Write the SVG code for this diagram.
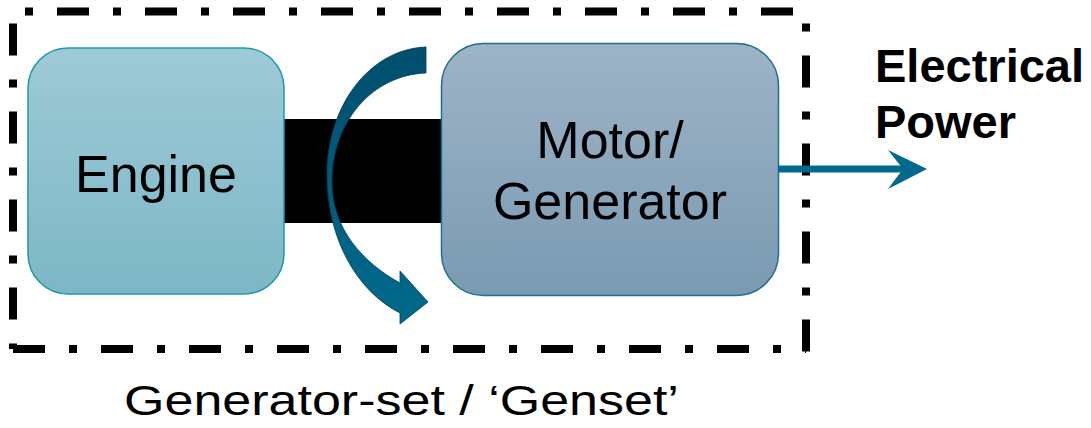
<svg xmlns="http://www.w3.org/2000/svg" width="1091" height="428" viewBox="0 0 1091 428">
  <defs>
    <linearGradient id="engineFill" x1="0" y1="0" x2="0" y2="1">
      <stop offset="0" stop-color="#9ECAD6"/>
      <stop offset="1" stop-color="#7DB7C6"/>
    </linearGradient>
    <linearGradient id="motorFill" x1="0" y1="0" x2="0" y2="1">
      <stop offset="0" stop-color="#9EB4C7"/>
      <stop offset="1" stop-color="#7A9AB2"/>
    </linearGradient>
    <linearGradient id="spinFill" x1="0" y1="0" x2="0" y2="1">
      <stop offset="0" stop-color="#004E6C"/>
      <stop offset="1" stop-color="#006A8D"/>
    </linearGradient>
    <style>
      .border { fill: none; stroke: #000; stroke-width: 8; stroke-dasharray: 32 24 8 24; }
      .label { font-family: "Liberation Sans", Arial, sans-serif; fill: #000; }
      .big { font-size: 52px; text-anchor: middle; }
      .bold { font-size: 47px; font-weight: bold; }
    </style>
  </defs>
  <rect width="1091" height="428" fill="#fff"/>

  <!-- genset boundary (dash-dot) -->
  <g id="boundary">
    <line class="border" x1="13" y1="11.5" x2="806" y2="11.5" stroke-dashoffset="44"/>
    <line class="border" x1="806" y1="11.5" x2="806" y2="353" stroke-dashoffset="44"/>
    <line class="border" x1="13" y1="11.5" x2="13" y2="349" stroke-dashoffset="76"/>
    <line class="border" x1="13" y1="349" x2="806" y2="349" stroke-dashoffset="0"/>
  </g>

  <!-- drive shaft -->
  <g id="shaft">
    <rect x="283" y="119" width="160" height="104" fill="#000"/>
  </g>

  <g id="engine">
    <rect x="28" y="48" width="256" height="246" rx="40" ry="40" fill="url(#engineFill)" stroke="#1B9AAA" stroke-width="1.5"/>
    <text class="label big" x="156" y="192">Engine</text>
  </g>

  <g id="motor-generator">
    <rect x="441.5" y="43.5" width="337" height="252" rx="42" ry="42" fill="url(#motorFill)" stroke="#1F6F8E" stroke-width="1.5"/>
    <text class="label big" x="610" y="158">Motor/</text>
    <text class="label big" x="610" y="219">Generator</text>
  </g>

  <!-- rotation arrow around the shaft -->
  <g id="rotation">
    <path d="M 426,47 C 370,49 327,105 327,175 C 327,240 358,292 400,313 L 400,324 L 428,302 L 400,271 L 400,283 C 362,262 332,228 332,182 C 332,122 372,75 426,73 Z" fill="url(#spinFill)" stroke="#003F58" stroke-width="0.8"/>
  </g>

  <!-- connectors -->
  <g id="connectors">
    <line x1="778" y1="169" x2="905" y2="169" stroke="#006A8E" stroke-width="7"/>
    <path d="M 927,169 L 888,150 L 903,169 L 888,189 Z" fill="#006A8E"/>
  </g>

  <g id="output-label">
    <text class="label bold" x="875" y="82">Electrical</text>
    <text class="label bold" x="875" y="138">Power</text>
  </g>

  <g id="caption">
    <text class="label big" transform="translate(401.5,415) scale(1,0.82)">Generator-set / ‘Genset’</text>
  </g>
</svg>
